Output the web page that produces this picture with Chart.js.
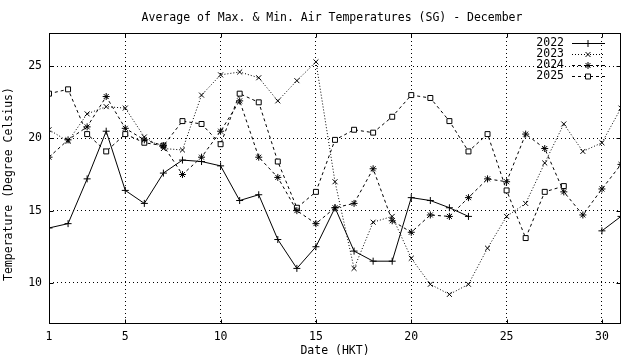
<!DOCTYPE html>
<html>
<head>
<meta charset="utf-8">
<script src="https://cdn.jsdelivr.net/npm/chart.js@4.4.1/dist/chart.umd.min.js"></script>
<style>
html, body { margin: 0; padding: 0; background: #fff; }
#wrap { width: 640px; height: 360px; }
</style>
</head>
<body>
<div id="wrap"><canvas id="myChart"></canvas></div>
<script>
"use strict";

const days = [1, 2, 3, 4, 5, 6, 7, 8, 9, 10, 11, 12, 13, 14, 15, 16, 17, 18, 19, 20, 21, 22, 23, 24, 25, 26, 27, 28, 29, 30, 31];
const t2022 = [13.8, 14.1, 17.2, 20.5, 16.4, 15.5, 17.6, 18.5, 18.4, 18.1, 15.7, 16.1, 13.0, 11.0, 12.5, 15.2, 12.2, 11.5, 11.5, 15.9, 15.7, 15.2, 14.6, null, null, null, null, null, null, 13.6, 14.6];
const t2023 = [20.6, 19.8, 21.7, 22.2, 22.1, 20.1, 19.3, 19.2, 23.0, 24.4, 24.6, 24.2, 22.6, 24.0, 25.3, 17.0, 11.0, 14.2, 14.6, 11.7, 9.9, 9.2, 9.9, 12.4, 14.6, 15.5, 18.3, 21.0, 19.1, 19.7, 22.1];
const t2024 = [18.7, 19.9, 20.8, 22.9, 20.7, 19.9, 19.5, 17.5, 18.7, 20.5, 22.6, 18.7, 17.3, 15.0, 14.1, 15.2, 15.5, 17.9, 14.3, 13.5, 14.7, 14.6, 15.9, 17.2, 17.0, 20.3, 19.3, 16.3, 14.7, 16.5, 18.2];
const t2025 = [23.1, 23.4, 20.3, 19.1, 20.3, 19.7, 19.5, 21.2, 21.0, 19.6, 23.1, 22.5, 18.4, 15.2, 16.3, 19.9, 20.6, 20.4, 21.5, 23.0, 22.8, 21.2, 19.1, 20.3, 16.4, 13.1, 16.3, 16.7, null, null, null];
const xTicks = [1, 5, 10, 15, 20, 25, 30];
const yTicks = [10, 15, 20, 25];

const FONT = "'DejaVu Sans Mono', 'Liberation Mono', monospace";
const TITLE = "Average of Max. & Min. Air Temperatures (SG) - December";
const YTITLE = "Temperature (Degree Celsius)";

function pts(arr) {
    return days.map((d, i) => ({ x: d, y: arr[i] }));
}

const series = [
    { label: "2022", data: t2022, style: "cross", dash: [] },
    { label: "2023", data: t2023, style: "crossRot", dash: [1, 2] },
    { label: "2024", data: t2024, style: "star", dash: [3, 3] },
    { label: "2025", data: t2025, style: "rect", dash: [3, 3] }
];

// box, inward ticks, titles and the legend inside the plot
const frame = {
    id: "frame",
    afterDraw(chart) {
        const ctx = chart.ctx;
        const a = chart.chartArea;
        const xs = chart.scales.x, ys = chart.scales.y;
        const L = Math.round(a.left) + 0.5, R = Math.round(a.right) - 0.5;
        const T = Math.round(a.top) + 0.5, B = Math.round(a.bottom) - 0.5;
        ctx.save();
        ctx.strokeStyle = "#000";
        ctx.lineWidth = 1;
        ctx.setLineDash([]);
        ctx.strokeRect(L, T, R - L, B - T);
        ctx.beginPath();
        xTicks.forEach(v => {
            const px = Math.round(xs.getPixelForValue(v)) + 0.5;
            ctx.moveTo(px, B); ctx.lineTo(px, B - 4);
            ctx.moveTo(px, T); ctx.lineTo(px, T + 4);
        });
        yTicks.forEach(v => {
            const py = Math.round(ys.getPixelForValue(v)) + 0.5;
            ctx.moveTo(L, py); ctx.lineTo(L + 4, py);
            ctx.moveTo(R, py); ctx.lineTo(R - 4, py);
        });
        ctx.stroke();

        ctx.font = "11.5px " + FONT;
        ctx.fillStyle = "#000";
        ctx.textAlign = "center";
        ctx.textBaseline = "middle";
        ctx.fillText(TITLE, (a.left + a.right) / 2 - 3, 18);

        ctx.save();
        ctx.translate(9, 184);
        ctx.rotate(-Math.PI / 2);
        ctx.fillText(YTITLE, 0, 0);
        ctx.restore();

        ctx.textAlign = "right";
        series.forEach((s, i) => {
            const y = 43 + i * 11;
            ctx.fillText(s.label, 564, y);
            ctx.beginPath();
            ctx.setLineDash(s.dash);
            ctx.moveTo(572, y + 0.5);
            ctx.lineTo(605, y + 0.5);
            ctx.stroke();
            ctx.setLineDash([]);
            ctx.fillStyle = "#fff";
            Chart.helpers.drawPoint(ctx, { pointStyle: s.style, radius: 3.5, rotation: 0, borderWidth: 1 }, 588, y + 0.5);
            ctx.fillStyle = "#000";
        });
        ctx.restore();
    }
};

window.addEventListener("load", function() {
    const ctx = document.getElementById("myChart");
    new Chart(ctx, {
        "type": "line",
        "data": {
            "datasets": series.map(s => ({
                "label": s.label,
                "data": pts(s.data),
                "borderColor": "#000",
                "backgroundColor": "#fff",
                "borderWidth": 1,
                "borderDash": s.dash,
                "pointStyle": s.style,
                "pointRadius": 3.5,
                "pointBorderColor": "#000",
                "pointBackgroundColor": "#fff",
                "pointBorderWidth": 1,
                "tension": 0,
                "spanGaps": false
            }))
        },
        "options": {
            "responsive": true,
            "maintainAspectRatio": false,
            "animation": false,
            "layout": { "padding": { "left": 0, "right": 19, "top": 33, "bottom": 0 } },
            "plugins": {
                "legend": { "display": false },
                "tooltip": { "enabled": false },
                "title": { "display": false }
            },
            "scales": {
                "x": {
                    "type": "linear",
                    "min": 1,
                    "max": 31,
                    "afterBuildTicks": function(scale) { scale.ticks = xTicks.map(v => ({ value: v })); },
                    "afterFit": function(scale) { scale.height = 36; },
                    "grid": { "color": "#000", "lineWidth": 1, "drawTicks": false },
                    "border": { "display": false, "dash": [1, 3] },
                    "ticks": { "color": "#000", "padding": 6, "maxRotation": 0, "autoSkip": false,
                               "font": { "family": FONT, "size": 11.5 } },
                    "title": { "display": true, "text": "Date (HKT)", "color": "#000",
                               "font": { "family": FONT, "size": 11.5 }, "padding": { "top": 2, "bottom": 2 } }
                },
                "y": {
                    "min": 7.15,
                    "max": 27.3,
                    "afterBuildTicks": function(scale) { scale.ticks = yTicks.map(v => ({ value: v })); },
                    "afterFit": function(scale) { scale.width = 49; },
                    "grid": { "color": "#000", "lineWidth": 1, "drawTicks": false },
                    "border": { "display": false, "dash": [1, 3] },
                    "ticks": { "color": "#000", "padding": 7,
                               "font": { "family": FONT, "size": 11.5 } }
                }
            }
        },
        "plugins": [frame]
    });
});
</script>
</body>
</html>
